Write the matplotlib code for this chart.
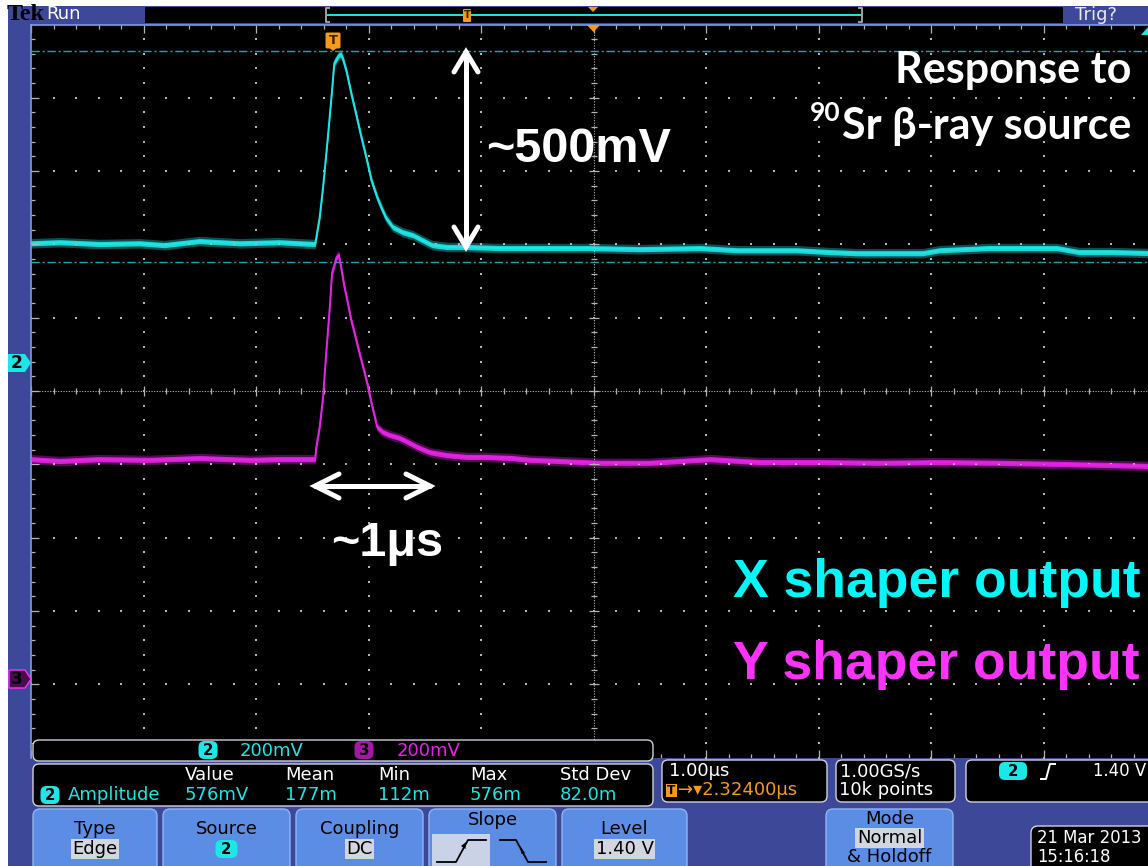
import numpy as np
import matplotlib
matplotlib.use('Agg')
import matplotlib.pyplot as plt
from matplotlib.patches import FancyBboxPatch, Rectangle, Polygon
from matplotlib.collections import LineCollection

# ---------------- data (read from the screen) ----------------
# time relative to trigger, microseconds
ch2_t = [-2.68, -2.42, -2.07, -1.71, -1.49, -1.18, -0.82, -0.47, -0.29, -0.15,
         -0.11, -0.08, -0.04, 0.00, 0.02, 0.06, 0.08, 0.10, 0.13, 0.17, 0.22,
         0.26, 0.31, 0.35, 0.40, 0.44, 0.48, 0.54, 0.63, 0.72, 0.80, 0.89,
         1.02, 1.20, 1.49, 1.84, 2.29, 2.73, 3.27, 3.60, 4.13, 4.42, 4.66,
         5.25, 5.40, 5.84, 6.44, 6.64, 6.94, 7.32]
ch2_mv = [327, 330, 325, 327, 322, 333, 327, 330, 327, 325,
          398, 480, 608, 745, 819, 840, 843, 827, 794, 737, 671,
          617, 554, 499, 453, 423, 396, 371, 357, 349, 336, 322,
          317, 317, 314, 314, 314, 311, 314, 308, 308, 303, 300,
          300, 308, 314, 314, 303, 303, 300]

ch3_t = [-2.68, -2.42, -2.07, -1.62, -1.18, -0.73, -0.47, -0.29, -0.15, -0.14,
         -0.11, -0.08, -0.05, -0.02, 0.00, 0.04, 0.06, 0.08, 0.11, 0.14, 0.17,
         0.20, 0.23, 0.26, 0.29, 0.32, 0.35, 0.38, 0.40, 0.45, 0.51, 0.60,
         0.69, 0.78, 0.87, 1.02, 1.20, 1.37, 1.60, 1.76, 2.02, 2.38, 2.82,
         3.36, 3.80, 4.33, 4.87, 5.40, 5.93, 6.47, 6.91, 7.32]
ch3_mv = [600, 595, 600, 598, 603, 598, 600, 600, 600, 633,
          688, 769, 898, 1015, 1108, 1151, 1157, 1124, 1070, 1026, 980,
          944, 906, 870, 835, 797, 753, 715, 688, 674, 666, 658,
          644, 630, 619, 611, 606, 606, 603, 598, 595, 590, 590,
          600, 592, 592, 590, 592, 590, 587, 584, 581]

ch2_scale_mv = 200
ch3_scale_mv = 200
ch2_offset_div = 0.38
ch3_offset_div = -3.93
ch2_high_mv = 852
ch2_low_mv = 276
time_per_div_us = 1.0
trig_to_center_us = 2.324

meas_headers = ['Value', 'Mean', 'Min', 'Max', 'Std Dev']
meas_values = ['576mV', '177m', '112m', '576m', '82.0m']
buttons = [('Type', 'Edge'), ('Source', '2'), ('Coupling', 'DC'),
           ('Slope', None), ('Level', '1.40 V')]

# ---------------- colours ----------------
BLUE = '#3d4898'
BTN = '#5b8de4'
CYAN = '#1ee6e6'
MAG = '#e424e4'
ORANGE = '#f59a1c'
GRID = '#b4b4b4'
HL = '#d2d6de'

W, H = 1148, 866
fig = plt.figure(figsize=(W / 100, H / 100), dpi=100)
fig.patch.set_facecolor('white')

bg = fig.add_axes([0, 0, 1, 1], zorder=0)
bg.set_xlim(0, W); bg.set_ylim(H, 0); bg.axis('off')
bg.add_patch(Rectangle((8, 6), W, H, color=BLUE, lw=0))
GL, GT, GB = 31, 24.5, 757.5
bg.add_patch(Rectangle((GL, GT), W, GB - GT, color='black', lw=0))

# ---------------- scope graticule axes ----------------
x0 = trig_to_center_us - 5 * time_per_div_us
sc = fig.add_axes([GL / W, (H - GB) / H, 1125 / W, (GB - GT) / H], zorder=1)
sc.set_xlim(x0, x0 + 10 * time_per_div_us)
sc.set_ylim(-5, 5)
sc.axis('off')
sc.patch.set_alpha(0)
dx = 1 / 112.5
dy = 10 / (GB - GT)

minor_y = np.arange(-5, 5.0001, 0.2)
minor_x = x0 + np.arange(0, 10.0001, 0.2)
for k in range(1, 10):
    if k == 5:
        continue
    sc.plot(np.full_like(minor_y, x0 + k), minor_y, ls='none', marker='s',
            ms=1.5, mew=0, color=GRID)
for k in range(-4, 5):
    if k == 0:
        continue
    sc.plot(minor_x, np.full_like(minor_x, k), ls='none', marker='s',
            ms=1.5, mew=0, color=GRID)
# centre cross
sc.axvline(x0 + 5, ls=(0, (1, 1.4)), lw=0.8, color=GRID)
sc.axhline(0, ls=(0, (1, 1.4)), lw=0.8, color=GRID)
segs = []
for j, xv in enumerate(minor_x):
    L = 5 if j % 5 == 0 else 3
    segs.append([(xv, -L * dy), (xv, L * dy)])
    Le = 8 if j % 5 == 0 else 4
    segs.append([(xv, 5), (xv, 5 - Le * dy)])
    segs.append([(xv, -5), (xv, -5 + Le * dy)])
for j, yv in enumerate(minor_y):
    L = 5 if j % 5 == 0 else 3
    segs.append([(x0 + 5 - L * dx, yv), (x0 + 5 + L * dx, yv)])
    Le = 8 if j % 5 == 0 else 4
    segs.append([(x0, yv), (x0 + Le * dx, yv)])
sc.add_collection(LineCollection(segs, colors=GRID, linewidths=0.9))
sc.plot([x0, x0], [-5, 5], color='#7d9be0', lw=1.2, clip_on=False)
sc.plot([x0, x0 + 10], [5, 5], color='#7d9be0', lw=1.2, clip_on=False)

# amplitude level markers
for lv in (ch2_high_mv, ch2_low_mv):
    sc.axhline(ch2_offset_div + lv / ch2_scale_mv, color='#18a8b0', lw=1.0,
               ls=(0, (6, 2, 1.5, 2)))

# traces
def draw_trace(t, mv, scale, off, col):
    t = np.asarray(t, float)
    y = off + np.asarray(mv, float) / scale
    sc.fill_between(t, y - 0.065, y + 0.065, color=col, alpha=0.35, lw=0)
    sc.fill_between(t, y - 0.035, y + 0.035, color=col, alpha=0.9, lw=0)
    sc.plot(t, y, color=col, lw=1.4)

draw_trace(ch2_t, ch2_mv, ch2_scale_mv, ch2_offset_div, CYAN)
draw_trace(ch3_t, ch3_mv, ch3_scale_mv, ch3_offset_div, MAG)

# ---------------- UI overlay ----------------
ui = fig.add_axes([0, 0, 1, 1], zorder=2)
ui.set_xlim(0, W); ui.set_ylim(H, 0); ui.axis('off')
ui.patch.set_alpha(0)
UIF = 'DejaVu Sans'
FS = 18 * 72 / 100
FSR = 16.5 * 72 / 100

def pt(px):
    return px * 72 / 100

def rbox(x1, y1, x2, y2, fc, ec='none', lw=1.0, r=5, z=3):
    p = FancyBboxPatch((x1 + r, y1 + r), x2 - x1 - 2 * r, y2 - y1 - 2 * r,
                       boxstyle=f'round,pad={r}', fc=fc, ec=ec, lw=lw, zorder=z)
    ui.add_patch(p)
    return p

def badge(cx, cy, s, fc, w=19, h=18, tc='black', ec='none'):
    ui.add_patch(FancyBboxPatch((cx - w / 2 + 6, cy - h / 2 + 6), w - 12, h - 12,
                                boxstyle='round,pad=6', fc=fc, ec=ec, lw=1, zorder=5))
    ui.text(cx, cy + 0.5, s, ha='center', va='center', color=tc, fontsize=pt(15),
            fontweight='bold', family=UIF, zorder=6)

# top bar
ui.text(7, 15, 'Tek', ha='left', va='center', color='black', fontsize=pt(24),
        family='Liberation Serif', fontweight='bold')
ui.text(46, 14, 'Run', ha='left', va='center', color='white', fontsize=pt(18), family=UIF)
ui.add_patch(Rectangle((145, 7), 1063 - 145, 16, color='black', lw=0, zorder=3))
ui.plot([327, 861], [15, 15], color=CYAN, lw=1.4, zorder=4)
for bx, d in ((326, 1), (862, -1)):
    ui.plot([bx + 3 * d, bx, bx, bx + 3 * d], [8, 8, 22, 22], color='#a0a0a0', lw=1.4, zorder=4)
ui.add_patch(FancyBboxPatch((464, 10), 6, 11, boxstyle='round,pad=1', fc=ORANGE,
                            ec='none', zorder=5))
ui.text(467, 15.5, 'T', ha='center', va='center', fontsize=pt(10), color='#3a2000',
        fontweight='bold', zorder=6)
ui.add_patch(Polygon([(588, 7), (598, 7), (593, 12)], closed=True, fc=ORANGE, ec='none', zorder=5))
ui.text(1075, 15, 'Trig?', ha='left', va='center', color='#e8e8f0', fontsize=pt(18), family=UIF)

# graticule markers
ui.add_patch(Polygon([(587, 25), (600, 25), (593.5, 32)], closed=True, fc=ORANGE, ec='none', zorder=5))
ui.add_patch(FancyBboxPatch((327, 34), 12, 13, boxstyle='round,pad=1.5', fc=ORANGE,
                            ec='none', zorder=5))
ui.add_patch(Polygon([(327, 46), (339, 46), (333, 51)], closed=True, fc=ORANGE, ec='none', zorder=5))
ui.text(333, 41, 'T', ha='center', va='center', fontsize=pt(13), color='#3a2000',
        fontweight='bold', zorder=6)
ui.add_patch(Polygon([(1148, 27), (1141, 35), (1148, 35)], closed=True, fc=CYAN, ec='none', zorder=5))
ui.add_patch(Polygon([(8, 354), (25, 354), (31, 363), (25, 372), (8, 372)], closed=True,
                     fc=CYAN, ec='none', zorder=5))
ui.text(17, 363.5, '2', ha='center', va='center', fontsize=pt(17), fontweight='bold',
        color='black', family=UIF, zorder=6)
ui.add_patch(Polygon([(9, 670), (25, 670), (31, 679), (25, 688), (9, 688)], closed=True,
                     fc='#4a0c4a', ec='#ff30ff', lw=1, zorder=5))
ui.text(17, 679.5, '3', ha='center', va='center', fontsize=pt(17), fontweight='bold',
        color='black', family=UIF, zorder=6)

# annotations
AW = dict(color='white', lw=pt(5), solid_capstyle='round', zorder=7)
ui.plot([466, 466], [52, 246], **AW)
ui.plot([454, 466, 478], [72, 52, 72], solid_joinstyle='miter', **AW)
ui.plot([454, 466, 478], [227, 247, 227], solid_joinstyle='miter', **AW)
ui.plot([315, 430], [486, 486], **AW)
ui.plot([339, 315, 339], [474, 486, 498], solid_joinstyle='miter', **AW)
ui.plot([406, 430, 406], [474, 486, 498], solid_joinstyle='miter', **AW)

ARB = 'Liberation Sans'
ui.text(486, 150, '~500mV', ha='left', va='center', color='white', fontsize=35,
        fontweight='bold', family=ARB, zorder=7)
ui.text(387, 543, '~1μs', ha='center', va='center', color='white', fontsize=35,
        fontweight='bold', family=[ARB, 'DejaVu Sans'], zorder=7)
ui.text(1131, 70, 'Response to', ha='right', va='center', color='white', fontsize=31,
        fontweight='bold', family=['Lato', 'DejaVu Sans'], zorder=7)
t2 = ui.text(1131, 126, 'Sr β-ray source', ha='right', va='center', color='white',
             fontsize=31, fontweight='bold', family=['Lato', 'DejaVu Sans'], zorder=7)
fig.canvas.draw()
bb = t2.get_window_extent(renderer=fig.canvas.get_renderer())
ui.text(bb.x0 - 1, 113, '90', ha='right', va='center', color='white', fontsize=19,
        fontweight='bold', family=['Lato', 'DejaVu Sans'], zorder=7)
ui.text(733, 583, 'X shaper output', ha='left', va='center', color='#00f8f8',
        fontsize=38.5, fontweight='bold', family=ARB, zorder=7)
ui.text(733, 665, 'Y shaper output', ha='left', va='center', color='#ff33ff',
        fontsize=38.5, fontweight='bold', family=ARB, zorder=7)

# bottom readouts
BOXE = '#d0d0dc'
rbox(33, 740, 653, 761, 'black', BOXE, r=6)
badge(208, 750, '2', CYAN)
ui.text(240, 750.5, '200mV', ha='left', va='center', color=CYAN, fontsize=FS, family=UIF, zorder=6)
badge(364, 750, '3', '#a418a4')
ui.text(397, 750.5, '200mV', ha='left', va='center', color=MAG, fontsize=FS, family=UIF, zorder=6)

rbox(33, 764, 653, 806, 'black', BOXE, r=6)
col_x = [185, 285, 378, 470, 560]
for cx, hd, vl in zip(col_x, meas_headers, meas_values):
    ui.text(cx, 775, hd, ha='left', va='center', color='white', fontsize=FS, family=UIF, zorder=6)
    ui.text(cx, 795, vl, ha='left', va='center', color=CYAN, fontsize=FS, family=UIF, zorder=6)
badge(50, 795, '2', CYAN)
ui.text(68, 795, 'Amplitude', ha='left', va='center', color=CYAN, fontsize=FS, family=UIF, zorder=6)

rbox(662, 760, 827, 802, 'black', BOXE, r=6)
ui.text(669, 771, '1.00μs', ha='left', va='center', color='white', fontsize=FS, family=UIF, zorder=6)
ui.add_patch(Rectangle((666, 784), 11, 13, fc=ORANGE, ec='none', zorder=6))
ui.text(671.5, 791, 'T', ha='center', va='center', color='black', fontsize=pt(12),
        fontweight='bold', family=UIF, zorder=7)
ui.text(678, 790, '→▾2.32400μs', ha='left', va='center', color=ORANGE, fontsize=FS,
        family=UIF, zorder=6)

rbox(836, 760, 955, 802, 'black', BOXE, r=6)
ui.text(840, 771, '1.00GS/s', ha='left', va='center', color='white', fontsize=FS, family=UIF, zorder=6)
ui.text(839, 790, '10k points', ha='left', va='center', color='white', fontsize=FS, family=UIF, zorder=6)

rbox(966, 760, 1175, 802, 'black', BOXE, r=6)
badge(1013, 771, '2', CYAN, w=28)
ui.plot([1041, 1046, 1050, 1055], [779, 779, 764, 764], color='white', lw=1.4, zorder=6)
ui.text(1093, 771, '1.40 V', ha='left', va='center', color='white', fontsize=FSR, family=UIF, zorder=6)

# buttons
btn_x = [(33, 157), (163, 290), (296, 423), (429, 556), (562, 687)]
for (bx1, bx2), (lab, val) in zip(btn_x, buttons):
    rbox(bx1, 809, bx2, 880, BTN, '#8fb4f4', lw=1, r=7)
    cx = (bx1 + bx2) / 2
    if val is None:
        ui.text(cx, 820, lab, ha='center', va='center', color='black', fontsize=FS, family=UIF, zorder=6)
        continue
    ui.text(cx, 829, lab, ha='center', va='center', color='black', fontsize=FS, family=UIF, zorder=6)
    if val == '2':
        badge(cx, 849, '2', CYAN, w=22)
    else:
        ui.text(cx, 849, val, ha='center', va='center', color='black', fontsize=FS,
                family=UIF, zorder=7,
                bbox=dict(boxstyle='square,pad=0.08', fc=HL, ec='none'))

# slope icons
ui.add_patch(Rectangle((432, 834), 58, 40, fc='#c9d2e6', ec='none', zorder=5))
ui.plot([437, 456, 468, 486], [862, 862, 840, 840], color='black', lw=1.3, zorder=6)
ui.plot([500, 516, 528, 546], [840, 840, 862, 862], color='black', lw=1.3, zorder=6)
ui.add_patch(Polygon([(461, 846), (466, 842), (465.5, 849)], closed=True, fc='black', zorder=6))
ui.add_patch(Polygon([(520, 846), (525, 853), (521.5, 854)], closed=True, fc='black', zorder=6))

# mode button
rbox(826, 809, 953, 880, BTN, '#8fb4f4', lw=1, r=7)
ui.text(889.5, 819, 'Mode', ha='center', va='center', color='black', fontsize=FS, family=UIF, zorder=6)
ui.text(889.5, 838, 'Normal', ha='center', va='center', color='black', fontsize=FS, family=UIF,
        zorder=7, bbox=dict(boxstyle='square,pad=0.08', fc=HL, ec='none'))
ui.text(889.5, 857, '& Holdoff', ha='center', va='center', color='black', fontsize=FS, family=UIF, zorder=6)

# date box
rbox(1031, 826, 1175, 880, 'black', BOXE, r=7)
ui.text(1037, 838, '21 Mar 2013', ha='left', va='center', color='white', fontsize=FSR, family=UIF, zorder=6)
ui.text(1037, 857, '15:16:18', ha='left', va='center', color='white', fontsize=FSR, family=UIF, zorder=6)

fig.savefig('out.png', dpi=100, facecolor=fig.get_facecolor())
